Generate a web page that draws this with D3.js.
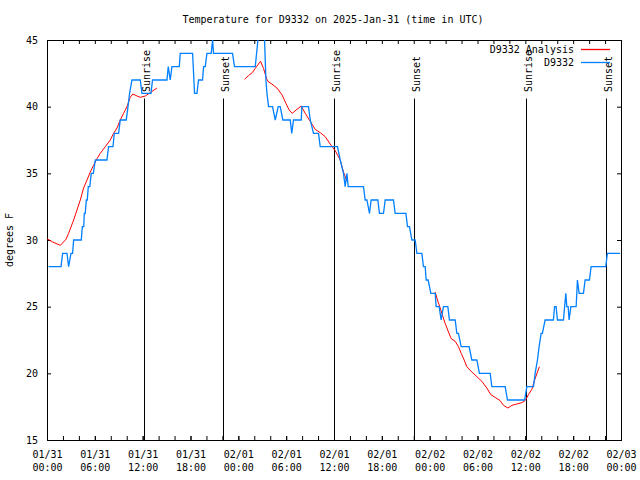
<!DOCTYPE html>
<html>
<head>
<meta charset="utf-8">
<script src="https://cdn.jsdelivr.net/npm/d3@7"></script>
<style>
body { margin: 0; background: #fff; }
text { font-family: "DejaVu Sans Mono", monospace; font-size: 10px; fill: #000; }
</style>
</head>
<body>
<svg id="chart" width="640" height="480"></svg>
<script>
// hours since 2025-01-31 00:00 UTC
const obsHours = [
  0.20, 1.76, 1.96, 2.51, 2.71, 3.01, 3.21, 3.34, 4.30, 4.43,
  4.61, 4.68, 4.80, 4.93, 5.05, 5.18, 5.37, 5.55, 5.81, 6.06,
  7.52, 7.72, 8.28, 8.44, 8.98, 9.19, 9.94, 10.16, 10.36, 10.66,
  11.70, 11.91, 13.04, 13.24, 15.05, 15.21, 15.46, 15.67, 16.59, 16.71,
  18.26, 18.51, 18.81, 19.01, 19.51, 19.64, 19.85, 20.06, 20.60, 20.77,
  20.89, 23.27, 23.52, 26.12, 26.46, 26.68, 27.00, 27.29, 27.46, 27.59,
  27.79, 28.29, 28.63, 29.00, 29.25, 29.59, 30.51, 30.70, 30.92, 31.89,
  31.97, 32.80, 33.02, 33.43, 34.06, 34.27, 36.44, 36.78, 37.19, 37.40,
  37.62, 37.78, 39.70, 39.91, 40.13, 40.45, 40.66, 41.50, 41.70, 42.21,
  42.42, 43.46, 43.67, 45.02, 45.22, 45.47, 45.77, 46.18, 46.40, 47.02,
  47.22, 47.44, 47.56, 47.81, 48.15, 48.69, 48.81, 49.19, 49.44, 49.73,
  50.28, 50.48, 51.20, 51.41, 51.61, 51.95, 52.95, 53.29, 53.92, 54.24,
  55.59, 55.80, 57.47, 57.76, 59.91, 60.19, 61.02, 61.23, 61.52, 61.73,
  61.98, 62.14, 62.48, 63.52, 63.67, 63.86, 64.03, 64.78, 64.93, 65.08,
  65.20, 65.37, 65.49, 65.71, 66.37, 66.46, 66.53, 66.75, 67.29, 67.50,
  68.04, 68.25, 70.09, 70.29, 71.89
];
const obsTemp = [
  28, 28, 29, 29, 28, 29, 29, 30, 30, 31,
  31, 32, 32, 33, 33, 34, 34, 35, 35, 36,
  36, 37, 37, 38, 38, 39, 39, 40, 41, 42,
  42, 41, 41, 42, 42, 43, 42, 43, 43, 44,
  44, 41, 41, 42, 42, 43, 43, 44, 44, 45,
  44, 44, 43, 43, 45, 47, 47, 45, 42, 41,
  40, 40, 39, 40, 40, 39, 39, 38, 39, 39,
  40, 40, 39, 38, 38, 37, 37, 36, 35, 34,
  35, 34, 34, 33, 33, 32, 33, 33, 32, 32,
  33, 33, 32, 32, 31, 31, 30, 30, 29, 29,
  28, 28, 27, 27, 26, 26, 25, 25, 24, 25,
  25, 24, 24, 23, 23, 22, 22, 21, 21, 20,
  20, 19, 19, 18, 18, 19, 19, 20, 21, 22,
  23, 23, 24, 24, 25, 25, 24, 24, 25, 26,
  25, 25, 24, 25, 25, 26, 27, 26, 26, 27,
  27, 28, 28, 29, 29
];

// analysis, null breaks the line
const anaHours = [
  0.00, 0.70, 1.67, 2.38, 2.71, 3.34, 3.76, 4.18, 4.59, 5.02,
  5.43, 5.84, 6.27, 6.68, 7.31, 7.94, 8.35, 8.78, 9.19, 9.61,
  10.03, 10.44, 10.76, 11.29, 11.70, 12.33, 12.95, 13.79, null,
  24.78, 25.28, 25.78, 26.12, 26.78, 27.16, 27.54, 27.79, 28.21, 28.84,
  29.47, 29.97, 30.38, 30.76, 31.35, 31.89, 32.39, 33.02, 33.64, 34.27,
  34.90, 35.52, 36.15, 36.78, 37.19, 37.62, null,
  48.69, 48.98, 49.32, 49.66, 49.94, 50.36, 50.70, 51.20, 51.61, 51.95,
  52.33, 52.66, 53.29, 53.92, 54.55, 55.17, 55.67, 56.21, 56.84, 57.25,
  57.81, 58.31, 58.93, 59.56, 59.97, 60.39, 60.82, 61.23, 61.52, 61.77
];
const anaTemp = [
  30.1, 29.85, 29.6, 30.05, 30.5, 31.5, 32.25, 33.0, 33.9, 34.5,
  35.1, 35.6, 36.1, 36.5, 37.0, 37.5, 38.0, 38.4, 39.0, 39.5,
  40.0, 40.7, 40.95, 40.8, 40.7, 40.8, 41.05, 41.4, null,
  42.05, 42.33, 42.57, 42.87, 43.4, 42.87, 42.1, 41.85, 41.7, 41.4,
  40.9, 40.25, 39.75, 39.5, 39.8, 40.05, 39.5, 38.9, 38.3, 38.05,
  37.75, 37.2, 36.7, 36.0, 35.1, 34.4, null,
  26.1, 25.5, 24.9, 24.25, 23.75, 23.1, 22.6, 22.4, 22.0, 21.5,
  21.0, 20.5, 20.1, 19.75, 19.4, 18.9, 18.4, 18.2, 17.95, 17.6,
  17.4, 17.6, 17.7, 17.8, 17.95, 18.4, 18.8, 19.6, 20.1, 20.5
];

const sunHours = [12.11, 22.02, 36.06, 46.09, 60.14, 70.17];
const sunLabels = ["Sunrise", "Sunset", "Sunrise", "Sunset", "Sunrise", "Sunset"];
const yTicks = [15, 20, 25, 30, 35, 40, 45];

const t0 = Date.UTC(2025, 0, 31);
const toDate = h => new Date(t0 + h * 3600e3);

const plotL = 47, plotR = 621, plotT = 40, plotB = 440;

const svg = d3.select("#chart");

const x = d3.scaleUtc()
    .domain([toDate(0), toDate(72)])
    .range([plotL, plotR]);
const y = d3.scaleLinear()
    .domain([15, 45])
    .range([plotB, plotT]);

svg.append("defs").append("clipPath").attr("id", "plot")
    .append("rect")
    .attr("x", plotL).attr("y", plotT)
    .attr("width", plotR - plotL).attr("height", plotB - plotT);

// minor ticks every 2 hours, bottom and top
[d3.axisBottom(x), d3.axisTop(x)].forEach((ax, i) => {
    svg.append("g")
        .attr("transform", `translate(0,${i ? plotT : plotB})`)
        .call(ax.ticks(d3.utcHour.every(2)).tickSize(-4).tickSizeOuter(0).tickFormat(""))
        .call(g => g.select(".domain").remove());
});

// bottom labels
const fmt = d3.utcFormat("%m/%d|%H:%M");
const xAxis = svg.append("g")
    .attr("transform", `translate(0,${plotB})`)
    .call(d3.axisBottom(x).ticks(d3.utcHour.every(6)).tickSize(-4).tickSizeOuter(0).tickFormat(fmt))
    .call(g => g.select(".domain").remove());
xAxis.selectAll(".tick text").each(function (d) {
    const parts = fmt(d).split("|");
    const t = d3.select(this).text(null).attr("y", null).attr("dy", null);
    t.append("tspan").attr("x", 0).attr("y", 17.5).text(parts[0]);
    t.append("tspan").attr("x", 0).attr("y", 31).text(parts[1]);
});

// y axis, ticks on both sides
svg.append("g")
    .attr("transform", `translate(${plotL},0)`)
    .call(d3.axisLeft(y).tickValues(yTicks).tickSize(-4).tickSizeOuter(0).tickPadding(9))
    .call(g => g.select(".domain").remove());
svg.append("g")
    .attr("transform", `translate(${plotR},0)`)
    .call(d3.axisRight(y).tickValues(yTicks).tickSize(-4).tickSizeOuter(0).tickFormat(""))
    .call(g => g.select(".domain").remove());

svg.selectAll(".tick line").attr("stroke", "#000");
svg.selectAll(".tick text").attr("font-size", 10).attr("font-family", "DejaVu Sans Mono");

// frame
svg.append("rect")
    .attr("x", plotL + 0.5).attr("y", plotT + 0.5)
    .attr("width", plotR - plotL).attr("height", plotB - plotT)
    .attr("fill", "none").attr("stroke", "#000");

// sunrise / sunset markers
sunHours.forEach((h, i) => {
    const sx = Math.round(x(toDate(h))) + 0.5;
    svg.append("line")
        .attr("x1", sx).attr("x2", sx)
        .attr("y1", 98.5).attr("y2", plotB)
        .attr("stroke", "#000");
    svg.append("text")
        .attr("transform", `translate(${sx + 5},92) rotate(-90)`)
        .text(sunLabels[i]);
});

// series
const plot = svg.append("g").attr("clip-path", "url(#plot)");

const line = d3.line()
    .defined(d => d[0] != null)
    .x(d => x(toDate(d[0])))
    .y(d => y(d[1]));

plot.append("path")
    .datum(anaHours.map((h, i) => [h, anaTemp[i]]))
    .attr("d", line)
    .attr("fill", "none")
    .attr("stroke", "#ff0000")
    .attr("stroke-width", 1);

plot.append("path")
    .datum(obsHours.map((h, i) => [h, obsTemp[i]]))
    .attr("d", line)
    .attr("fill", "none")
    .attr("stroke", "#0080ff")
    .attr("stroke-width", 1.3);

// legend
const legend = [["D9332 Analysis", "#ff0000", 49.5], ["D9332", "#0080ff", 62.5]];
legend.forEach(([name, color, ly]) => {
    svg.append("text")
        .attr("x", 574).attr("y", ly + 3.5)
        .attr("text-anchor", "end")
        .text(name);
    svg.append("line")
        .attr("x1", 581).attr("x2", 610)
        .attr("y1", ly).attr("y2", ly)
        .attr("stroke", color).attr("stroke-width", 1.3);
});

// title and y label
svg.append("text")
    .attr("x", 333).attr("y", 23)
    .attr("text-anchor", "middle")
    .text("Temperature for D9332 on 2025-Jan-31 (time in UTC)");

svg.append("text")
    .attr("transform", "translate(13,240) rotate(-90)")
    .attr("text-anchor", "middle")
    .text("degrees F");
</script>
</body>
</html>
